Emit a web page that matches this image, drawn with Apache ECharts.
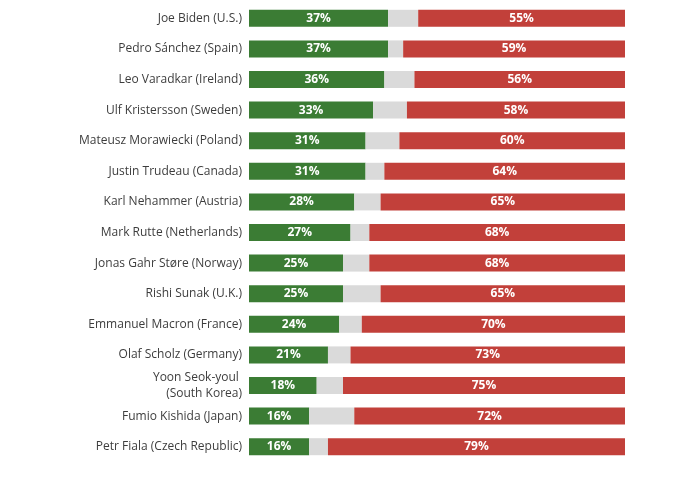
<!DOCTYPE html>
<html><head><meta charset="utf-8">
<script src="https://cdn.jsdelivr.net/npm/echarts@6/dist/echarts.min.js"></script>
<style>html,body{margin:0;padding:0;background:#fff}#c{width:680px;height:477px}</style>
</head><body><div id="c"></div>
<script>
const leaders = ["Joe Biden (U.S.)","Pedro Sánchez (Spain)","Leo Varadkar (Ireland)","Ulf Kristersson (Sweden)","Mateusz Morawiecki (Poland)","Justin Trudeau (Canada)","Karl Nehammer (Austria)","Mark Rutte (Netherlands)","Jonas Gahr Støre (Norway)","Rishi Sunak (U.K.)","Emmanuel Macron (France)","Olaf Scholz (Germany)","Yoon Seok-youl \n(South Korea)","Fumio Kishida (Japan)","Petr Fiala (Czech Republic)"];
const approve = [37,37,36,33,31,31,28,27,25,25,24,21,18,16,16];
const unsure = [8,4,8,9,9,5,7,5,7,10,6,6,7,12,5];
const disapprove = [55,59,56,58,60,64,65,68,68,65,70,73,75,72,79];

const chart = echarts.init(document.getElementById('c'));
const lbl = {show:true, position:'inside', color:'#fff', fontWeight:'bold', fontSize:12, fontFamily:'Open Sans', formatter: p => p.value + '%'};
chart.setOption({
  animation:false,
  grid:{left:249, right:55, top:3, bottom:15},
  xAxis:{type:'value', min:0, max:100, show:false},
  yAxis:{type:'category', data:leaders, inverse:true, axisLine:{show:false}, axisTick:{show:false},
    axisLabel:{color:'#3d3d3d', fontSize:12, fontFamily:'Open Sans', margin:7, lineHeight:16}},
  series:[
    {type:'bar', stack:'s', data:approve, barWidth:17, itemStyle:{color:'#3b7c34'}, label:lbl},
    {type:'bar', stack:'s', data:unsure, barWidth:17, itemStyle:{color:'#dadada'}},
    {type:'bar', stack:'s', data:disapprove, barWidth:17, itemStyle:{color:'#c2403a'}, label:lbl}
  ]
});
</script></body></html>
